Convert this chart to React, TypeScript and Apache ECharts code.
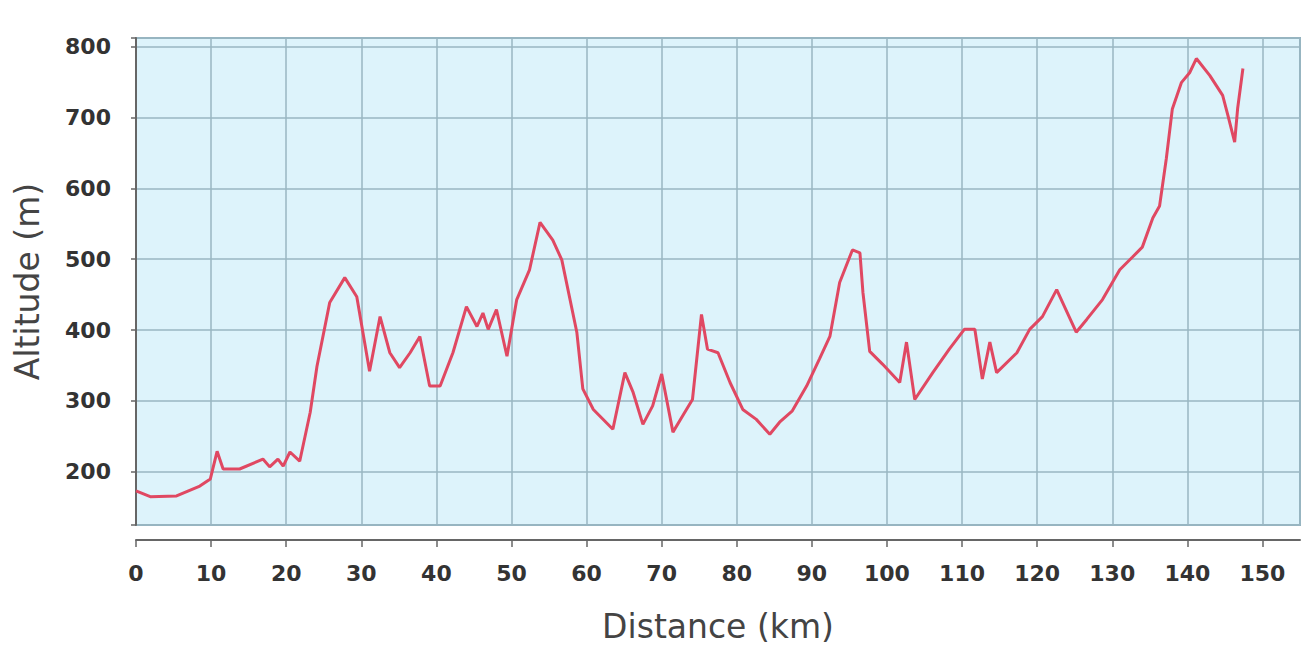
import React, { useEffect, useRef } from "react";
import * as echarts from "echarts";

const distanceKm: number[] = [
  0.0, 1.9, 5.4, 8.5, 9.9, 10.8, 11.6, 13.8, 16.9, 17.8, 18.9, 19.6, 20.5, 21.8,
  23.2, 24.1, 25.8, 27.8, 29.4, 31.1, 32.5, 33.8, 35.1, 36.5, 37.8, 39.1, 40.5,
  42.2, 44.0, 45.4, 46.2, 46.9, 48.0, 49.4, 50.7, 52.4, 53.8, 55.5, 56.7, 58.7,
  59.5, 60.9, 63.5, 65.1, 66.2, 67.5, 68.8, 70.0, 71.5, 72.8, 74.1, 75.3, 76.1,
  77.5, 79.1, 80.8, 82.6, 84.4, 85.7, 87.4, 89.3, 91.0, 92.4, 93.7, 95.4, 96.4,
  96.8, 97.7, 99.4, 101.7, 102.6, 103.7, 106.1, 108.3, 110.3, 111.7, 112.7,
  113.7, 114.6, 117.3, 119.0, 120.7, 122.6, 125.2, 126.6, 128.7, 131.0, 132.7,
  134.0, 135.4, 136.3, 137.2, 138.0, 139.2, 140.3, 141.2, 143.0, 144.7, 145.4,
  146.3, 146.7, 147.4,
];

const altitudeM: number[] = [
  173, 165, 166, 180, 190, 229, 204, 204, 218, 207, 218, 208, 228, 215,
  284, 349, 439, 474, 447, 342, 419, 368, 347, 368, 391, 321, 321,
  368, 433, 405, 424, 401, 429, 363, 443, 485, 552, 527, 499, 397,
  317, 288, 260, 340, 312, 267, 293, 338, 256, 279, 302, 422, 373,
  368, 326, 288, 274, 253, 270, 286, 321, 359, 391, 467, 513, 509,
  453, 370, 352, 326, 383, 302, 340, 373, 401, 401, 331,
  383, 340, 368, 401, 419, 457, 397, 415, 443, 485, 503,
  517, 558, 575, 642, 712, 749, 763, 783, 759, 731, 703,
  665, 713, 769,
];

const xAxisTitle = "Distance (km)";
const yAxisTitle = "Altitude (m)";

export default function App() {
  const ref = useRef<HTMLDivElement>(null);

  useEffect(() => {
    if (!ref.current) return;
    const chart = echarts.init(ref.current, undefined, { renderer: "svg" });
    const data = distanceKm.map((d, i) => [d, altitudeM[i]]);
    const font = "DejaVu Sans";
    chart.setOption({
      animation: false,
      backgroundColor: "#ffffff",
      grid: {
        left: 136,
        right: 6,
        top: 38,
        bottom: 124,
        show: true,
        backgroundColor: "#ddf3fb",
        borderColor: "#94b2be",
        borderWidth: 2,
      },
      xAxis: {
        type: "value",
        min: 0,
        max: 155,
        interval: 10,
        offset: 15,
        name: xAxisTitle,
        nameLocation: "middle",
        nameGap: 70,
        nameTextStyle: { fontFamily: font, fontSize: 33, color: "#444444" },
        axisLine: { show: true, lineStyle: { color: "#666666", width: 2 } },
        axisTick: { show: true, length: 7, lineStyle: { color: "#666666", width: 1.5 } },
        axisLabel: {
          fontFamily: font,
          fontSize: 22,
          fontWeight: "bold",
          color: "#333333",
          margin: 22,
        },
        splitLine: { show: true, lineStyle: { color: "#98b6c2", width: 1.5 } },
      },
      yAxis: {
        type: "value",
        min: 125,
        max: 812,
        splitNumber: 5,
        offset: 12,
        name: yAxisTitle,
        nameLocation: "middle",
        nameGap: 80,
        nameTextStyle: { fontFamily: font, fontSize: 33, color: "#444444" },
        axisLine: { show: true, lineStyle: { color: "#666666", width: 2 } },
        axisTick: { show: true, length: 5, lineStyle: { color: "#666666", width: 1.5 } },
        axisLabel: {
          fontFamily: font,
          fontSize: 22,
          fontWeight: "bold",
          color: "#333333",
          margin: 13,
          formatter: (v: number) => (v % 100 === 0 ? String(v) : ""),
        },
        splitLine: { show: true, lineStyle: { color: "#98b6c2", width: 1.5 } },
      },
      series: [
        {
          type: "line",
          data,
          showSymbol: false,
          symbol: "none",
          lineStyle: { color: "#e04862", width: 3 },
        },
      ],
    });
    return () => chart.dispose();
  }, []);

  return (
    <div
      ref={ref}
      style={{ position: "fixed", left: 0, top: 0, width: 1306, height: 649 }}
    />
  );
}
